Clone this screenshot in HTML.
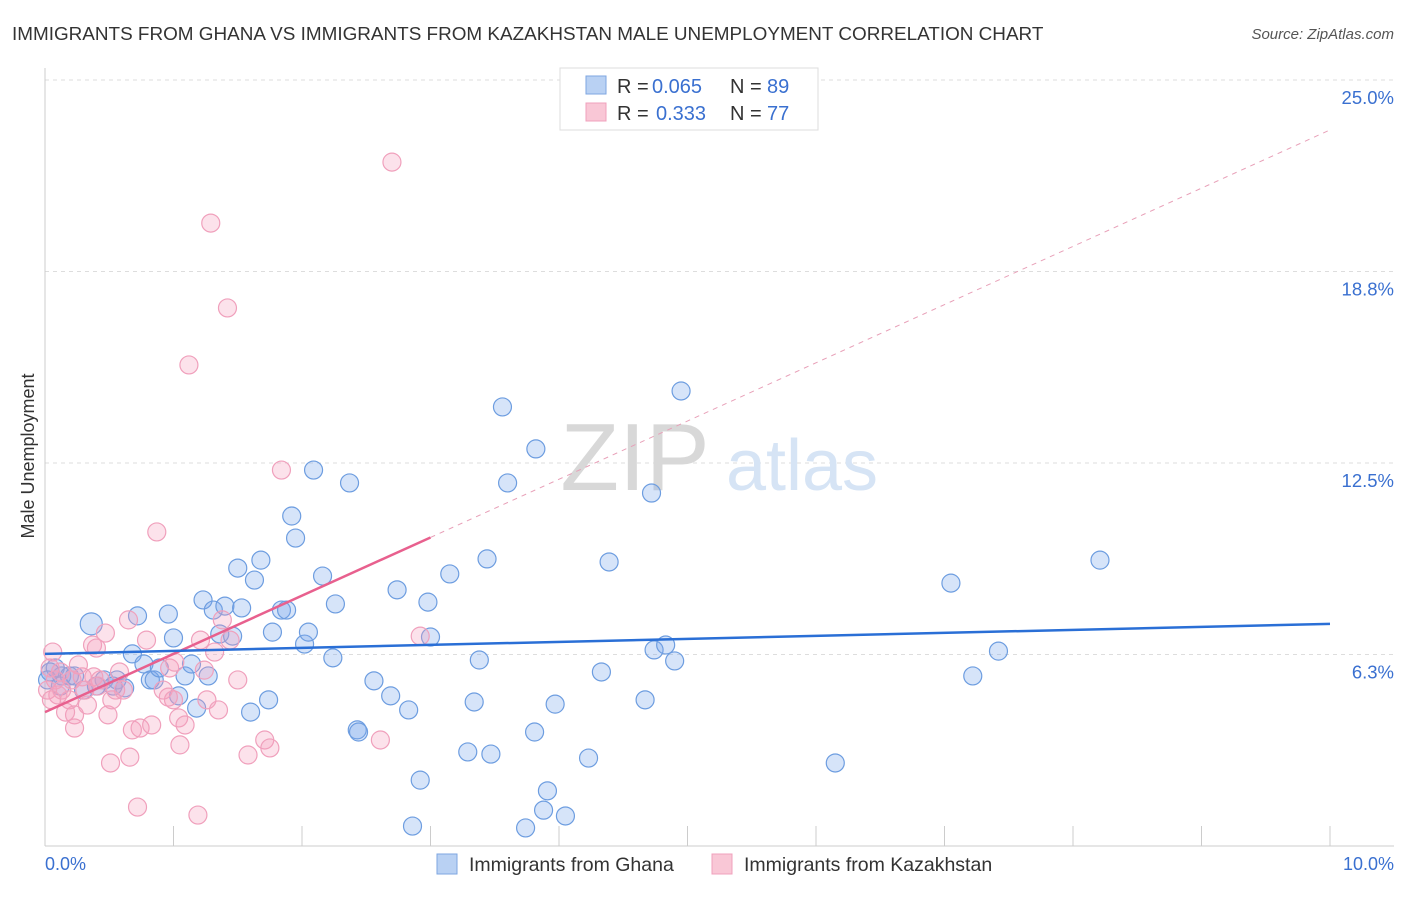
<!DOCTYPE html>
<html><head><meta charset="utf-8"><style>
body{margin:0;background:#fff;font-family:"Liberation Sans",sans-serif;}
svg text{font-family:"Liberation Sans",sans-serif;}
</style></head><body>
<svg width="1406" height="892" viewBox="0 0 1406 892">
<text x="12" y="40" font-size="18.9" fill="#333">IMMIGRANTS FROM GHANA VS IMMIGRANTS FROM KAZAKHSTAN MALE UNEMPLOYMENT CORRELATION CHART</text>
<text x="1394" y="39" font-size="15" fill="#555" text-anchor="end" font-style="italic">Source: ZipAtlas.com</text>
<g id="grid"></g>
<g>
<text x="635" y="490" font-size="96" fill="#d8d8d8" font-family="Liberation Serif" text-anchor="middle">ZIP</text>
<text x="802" y="490" font-size="72" fill="#d6e4f5" text-anchor="middle">atlas</text>
</g>
<g id="pts"></g>
<g id="lines"></g>
<text x="0" y="0" font-size="18" fill="#333" transform="translate(34,456) rotate(-90)" text-anchor="middle">Male Unemployment</text>
<g>
<rect x="560" y="68" width="258" height="62" fill="#fff" stroke="#ddd"/>
<rect x="586" y="76" width="20" height="18" fill="#b9d1f3" stroke="#7ea6e0"/>
<rect x="586" y="103" width="20" height="18" fill="#f9c7d6" stroke="#f0a0bc"/>
<text x="617" y="93" font-size="20" fill="#333">R =</text>
<text x="652" y="93" font-size="20" fill="#3a70d0">0.065</text>
<text x="730" y="93" font-size="20" fill="#333">N =</text>
<text x="767" y="93" font-size="20" fill="#3a70d0">89</text>
<text x="617" y="120" font-size="20" fill="#333">R =</text>
<text x="656" y="120" font-size="20" fill="#3a70d0">0.333</text>
<text x="730" y="120" font-size="20" fill="#333">N =</text>
<text x="767" y="120" font-size="20" fill="#3a70d0">77</text>
</g>
<g>
<rect x="437" y="854" width="20" height="20" fill="#b9d1f3" stroke="#7ea6e0"/>
<text x="469" y="871" font-size="19.5" fill="#333">Immigrants from Ghana</text>
<rect x="712" y="854" width="20" height="20" fill="#f9c7d6" stroke="#f0a0bc"/>
<text x="744" y="871" font-size="19.5" fill="#333">Immigrants from Kazakhstan</text>
</g>
<text x="45" y="870" font-size="18" fill="#3a70d0">0.0%</text>
<text x="1394" y="870" font-size="18" fill="#3a70d0" text-anchor="end">10.0%</text>
</svg>
<script>
const yTicks=[25,18.75,12.5,6.25];
const yTickLabels=["25.0%","18.8%","12.5%","6.3%"];
const ghanaX=[.36,.08,.13,.19,.23,.30,.40,.46,.56,.62,.68,.72,.77,.82,.85,.89,.96,1.00,1.04,1.09,1.14,1.18,1.23,1.27,1.31,1.36,1.40,1.46,1.50,1.53,1.60,1.63,1.68,1.74,1.77,1.84,1.88,1.92,1.95,2.02,2.05,2.09,2.16,2.24,2.26,2.37,2.43,2.44,2.56,2.69,2.74,2.83,2.86,2.92,2.98,3.00,3.15,3.29,3.34,3.38,3.44,3.47,3.56,3.60,3.74,3.81,3.82,3.88,3.91,3.97,4.05,4.23,4.33,4.39,4.67,4.72,4.74,4.83,4.90,4.95,6.15,7.05,7.22,7.42,8.21,.04,.02,.12,.53];
const ghanaY=[7.25,5.81,5.55,5.55,5.55,5.09,5.22,5.42,5.42,5.16,6.27,7.51,5.94,5.42,5.42,5.81,7.57,6.79,4.90,5.55,5.94,4.50,8.03,5.55,7.70,6.92,7.83,6.85,9.07,7.77,4.37,8.68,9.33,4.77,6.98,7.70,7.70,10.77,10.05,6.59,6.98,12.27,8.81,6.14,7.90,11.85,3.79,3.72,5.39,4.90,8.36,4.44,0.65,2.15,7.96,6.82,8.88,3.07,4.70,6.07,9.37,3.00,14.33,11.85,0.59,3.72,12.96,1.17,1.80,4.63,0.98,2.87,5.68,9.27,4.77,11.52,6.40,6.56,6.04,14.85,2.71,8.58,5.55,6.36,9.33,5.68,5.42,5.22,5.22];
const kazX=[.06,.04,.08,.10,.13,.19,.23,.26,.31,.33,.37,.40,.43,.47,.49,.52,.55,.58,.61,.65,.68,.72,.74,.79,.83,.87,.92,.97,1.00,1.04,1.05,1.09,1.12,1.19,1.24,1.26,1.29,1.32,1.35,1.38,1.42,1.44,1.50,1.58,1.71,1.75,1.84,2.61,2.70,2.92,.51,.66,.12,.16,.21,.29,.38,.02,.23,.41,.05,1.21,1.01,.96];
const kazY=[6.33,5.81,5.42,4.93,5.09,4.77,4.28,5.91,5.09,4.60,6.56,6.46,5.42,6.95,4.28,4.77,5.09,5.68,5.09,7.38,3.79,1.27,3.85,6.72,3.95,10.25,5.09,5.81,4.77,4.18,3.30,3.95,15.70,1.01,5.74,4.77,20.33,6.33,4.44,7.38,17.56,6.72,5.42,2.97,3.46,3.20,12.27,3.46,22.32,6.85,2.71,2.90,5.68,4.37,5.42,5.52,5.52,5.09,3.85,5.22,4.77,6.72,6.00,4.86];
const ghanaTrend=[6.27,7.25];
const kazTrend=[4.37,23.37];
const kazSolidEnd=3.0;

const NS="http://www.w3.org/2000/svg";
const X=v=>45+v*128.5;
const Y=v=>846-v*30.64;
function mk(tag,attrs,parent){const e=document.createElementNS(NS,tag);for(const k in attrs)e.setAttribute(k,attrs[k]);parent.appendChild(e);return e;}
const grid=document.getElementById('grid');
yTicks.forEach((t,i)=>{
  const l=mk('line',{x1:45,x2:1394,y1:Y(t),y2:Y(t),stroke:'#ddd','stroke-dasharray':'4,4'},grid);
  
  
  const tx=mk('text',{x:1394,y:Y(t)+24,'font-size':18.5,fill:'#3a70d0','text-anchor':'end'},grid);
  tx.textContent=yTickLabels[i];
  
  
});
const ax=mk('line',{x1:45,x2:45,y1:68,y2:846,stroke:'#ccc'},grid);


const bx=mk('line',{x1:45,x2:1394,y1:846,y2:846,stroke:'#ccc'},grid);


for(let i=1;i<=10;i++){
  const tk=mk('line',{x1:X(i),x2:X(i),y1:826,y2:846,stroke:'#ccc'},grid);
  
  
}
const pts=document.getElementById('pts');
ghanaX.forEach((x,i)=>{
  const c=mk('circle',{cx:X(x),cy:Y(ghanaY[i]),r:i===0?11:9,fill:'rgba(120,165,235,0.3)',stroke:'#6d9de0','stroke-width':1.2},pts);
  
  
});
kazX.forEach((x,i)=>{
  const c=mk('circle',{cx:X(x),cy:Y(kazY[i]),r:9,fill:'rgba(245,160,190,0.3)',stroke:'#f0a0bc','stroke-width':1.2},pts);
  
  
});
const lines=document.getElementById('lines');
const kf=x=>kazTrend[0]+(kazTrend[1]-kazTrend[0])*x/10;
const kd=mk('line',{x1:X(kazSolidEnd),y1:Y(kf(kazSolidEnd)),x2:X(10),y2:Y(kazTrend[1]),stroke:'#e8a0b8','stroke-dasharray':'5,5','stroke-width':1},lines);


const ks=mk('line',{x1:X(0),y1:Y(kazTrend[0]),x2:X(kazSolidEnd),y2:Y(kf(kazSolidEnd)),stroke:'#e8608e','stroke-width':2.5},lines);


const gl=mk('line',{x1:X(0),y1:Y(ghanaTrend[0]),x2:X(10),y2:Y(ghanaTrend[1]),stroke:'#2a6fd6','stroke-width':2.5},lines);


</script>
</body></html>
